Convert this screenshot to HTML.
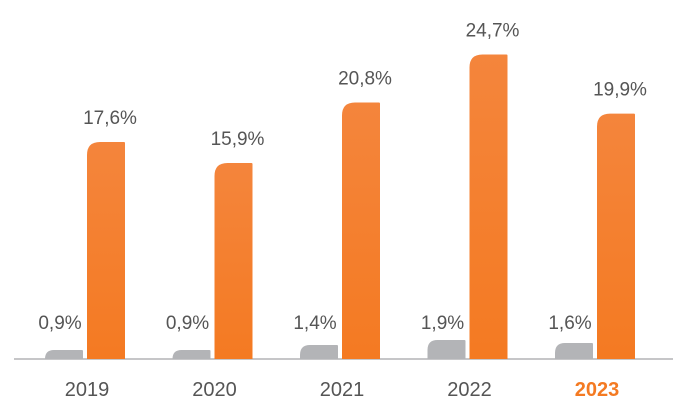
<!DOCTYPE html>
<html><head><meta charset="utf-8"><style>
body{margin:0;background:#fff}
svg text{font-family:"Liberation Sans",sans-serif}
</style></head><body>
<svg id="chart" width="690" height="413" viewBox="0 0 690 413" xmlns="http://www.w3.org/2000/svg">
<defs><linearGradient id="og" x1="0" y1="0" x2="0" y2="1"><stop offset="0" stop-color="#f4853c"/><stop offset="1" stop-color="#f47a22"/></linearGradient></defs>
<line x1="14" y1="359" x2="673" y2="359" stroke="#b4b4b6" stroke-width="1.5"/>
<g id="bars"></g>
</svg>
<script>
const years = ["2019","2020","2021","2022","2023"];
const grayVals = [0.9,0.9,1.4,1.9,1.6];
const orangeVals = [17.6,15.9,20.8,24.7,19.9];
const grayLabels = ["0,9%","0,9%","1,4%","1,9%","1,6%"];
const orangeLabels = ["17,6%","15,9%","20,8%","24,7%","19,9%"];

const base = 359, x0 = 45, step = 127.5, bw = 38;
const yO = v => base - v * 12.33;
const yG = v => base - Math.max(v * 10, 9);
const g = document.getElementById('bars');
const NS = "http://www.w3.org/2000/svg";
function bar(x, top, fill, r, name){
  const h = base - top; r = Math.min(r, h);
  const p = document.createElementNS(NS,'path');
  p.setAttribute('d',`M${x},${base} L${x},${top+r} Q${x},${top} ${x+r},${top} L${x+bw-1},${top} Q${x+bw},${top} ${x+bw},${top+1} L${x+bw},${base} Z`);
  p.setAttribute('fill',fill);
  
  
  g.appendChild(p);
}
function txt(x,y,s,fill,size,weight,name){
  const t = document.createElementNS(NS,'text');
  t.setAttribute('x',x); t.setAttribute('y',y); t.setAttribute('text-anchor','middle');
  t.setAttribute('fill',fill); t.setAttribute('font-size',size);
  if(weight) t.setAttribute('font-weight',weight);
  t.textContent = s;
  
  
  g.appendChild(t);
}
years.forEach((yr,i)=>{
  const gx = x0 + i*step, ox = gx + 42;
  const gt = yG(grayVals[i]), ot = yO(orangeVals[i]);
  bar(gx, gt, '#b3b4b7', Math.min(10,(base-gt)), 'bar-gray-'+yr);
  bar(ox, ot, 'url(#og)', 13, 'bar-orange-'+yr);
  txt(gx+15, 329, grayLabels[i], '#555', 19, null, 'gray-value-label');
  txt(ox+23, ot-18, orangeLabels[i], '#555', 19, null, 'orange-value-label');
  const last = i === years.length-1;
  txt(gx+42, 396, yr, last ? '#f47a22' : '#555', 20, last ? 'bold' : null, 'year-label');
});
</script>
</body></html>
